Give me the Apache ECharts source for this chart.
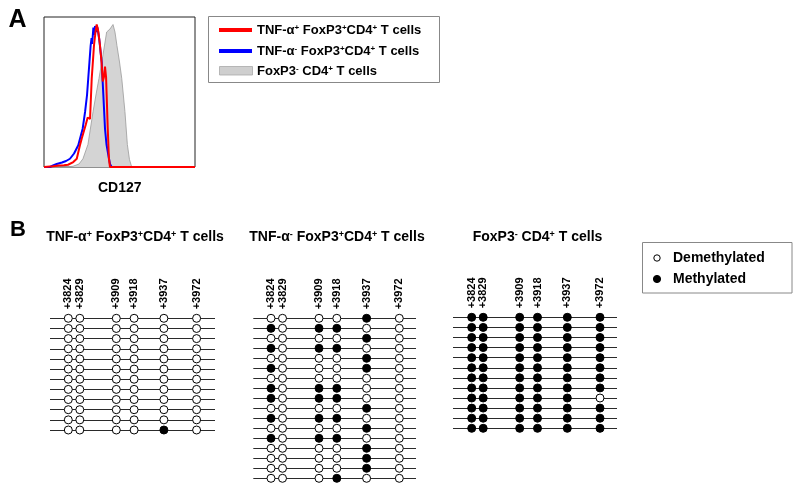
<!DOCTYPE html>
<html><head><meta charset="utf-8">
<script src="https://cdn.jsdelivr.net/npm/echarts@6/dist/echarts.min.js"></script>
<style>html,body{margin:0;padding:0;background:#fff}#c{width:800px;height:491px}</style>
</head><body><div id="c"></div>
<script>
const FONT = '"Liberation Sans", Arial, Helvetica, sans-serif';

// ---- Panel A: CD127 histograms, [channel, % of max] ----
const histFoxp3Neg = [[0,0],[146,0],[192,0.5],[232,2],[258,5.5],[291,15],[325,37],[344,48],[364,59],[391,75],[415,90],[424,90],[437,92],[457,95],[470,90],[483,81],[500,70],[515,59],[536,37],[552,15],[566,5],[581,0],[1000,0]];
const histTnfNeg = [[0,0],[40,0],[60,1],[84,2],[119,3],[146,4],[172,5.5],[199,9],[227,14.5],[256,25.5],[272,36.7],[285,48],[293,59],[301,70],[309,81],[315,86],[319,82],[327,93],[331,88],[338,94],[344,90],[354,93],[366,85],[382,70],[393,48],[404,25.5],[414,15],[426,8],[437,2],[448,0],[1000,0]];
const histTnfPos = [[0,0],[60,0.5],[99,1],[132,1.2],[159,1.5],[194,3.3],[217,5.5],[238,14.5],[250,19],[258,20],[276,28],[289,33],[298,32],[305,32],[316,59],[325,72],[331,81],[341,90],[349,95],[354,93],[360,90],[371,81],[381,70],[389,57],[397,60],[404,67],[411,60],[415,48],[422,26],[430,5.5],[437,0],[1000,0]];
const histNames = ['TNF-α{sup|+} FoxP3{sup|+}CD4{sup|+} T cells', 'TNF-α{sup|-} FoxP3{sup|+}CD4{sup|+} T cells', 'FoxP3{sup|-} CD4{sup|+} T cells'];
const histAxisName = 'CD127';

// ---- Panel B: methylation of CpG sites (1 = methylated, 0 = demethylated) ----
const siteLabels = ['+3824', '+3829', '+3909', '+3918', '+3937', '+3972'];
const methTnfPos = ['000000','000000','000000','000000','000000','000000','000000','000000','000000','000000','000000','000010'];
const methTnfNeg = ['000010','101100','000010','101100','000010','100010','000000','101100','101100','000010','101100','000010','101100','000010','000010','000010','000100'];
const methFoxp3Neg = ['111111','111111','111111','111111','111111','111111','111111','111111','111110','111111','111111','111111'];
const panelTitles = ['TNF-α{sup|+} FoxP3{sup|+}CD4{sup|+} T cells', 'TNF-α{sup|-} FoxP3{sup|+}CD4{sup|+} T cells', 'FoxP3{sup|-} CD4{sup|+} T cells'];
const methLegend = ['Demethylated', 'Methylated'];

// ---- layout (pixels) ----
const siteX = [0, 11.5, 48, 65.8, 95.6, 128.3];
const panelLayout = [
  {left: 50,    width: 165,   x0: 68.3,  top: 318.3, height: 111.7, tx: 135},
  {left: 253.3, width: 162.7, x0: 271,   top: 318.3, height: 160,   tx: 337},
  {left: 453,   width: 164,   x0: 471.7, top: 317.3, height: 111,   tx: 537.5}
];
const panelRows = [methTnfPos, methTnfNeg, methFoxp3Neg];

const supStyle = (fs) => ({fontSize: fs, fontWeight: 'bold', fontFamily: FONT, fill: '#000', verticalAlign: 'top', lineHeight: fs});
function richText(x, y, text, fs, align, supFs) {
  return {type: 'text', x: x, y: y, z: 100, style: {
    text: text, fontSize: fs, fontWeight: 'bold', fontFamily: FONT, fill: '#000',
    align: align || 'center', verticalAlign: 'middle',
    rich: {sup: supStyle(supFs || Math.round(fs * 0.65))}
  }};
}

const grids = [{left: 44, top: 17, width: 151, height: 150, show: true, borderColor: '#222', borderWidth: 1, backgroundColor: '#fff'}];
const xAxes = [{gridIndex: 0, type: 'value', min: 0, max: 1000, show: false}];
const yAxes = [{gridIndex: 0, type: 'value', min: 0, max: 100, show: false}];
const series = [
  {name: 'foxp3neg', type: 'line', xAxisIndex: 0, yAxisIndex: 0, data: histFoxp3Neg, symbol: 'none', clip: false,
   lineStyle: {color: '#9a9a9a', width: 0.8}, areaStyle: {color: '#d4d4d4', opacity: 1}, z: 2},
  {name: 'tnfneg', type: 'line', xAxisIndex: 0, yAxisIndex: 0, data: histTnfNeg, symbol: 'none', clip: false,
   lineStyle: {color: '#0000ff', width: 2}, z: 3},
  {name: 'tnfpos', type: 'line', xAxisIndex: 0, yAxisIndex: 0, data: histTnfPos, symbol: 'none', clip: false,
   lineStyle: {color: '#ff0000', width: 2}, z: 4}
];

panelLayout.forEach((p, i) => {
  const gi = i + 1;
  const rows = panelRows[i];
  const xmin = p.left - p.x0;
  grids.push({left: p.left, top: p.top, width: p.width, height: p.height});
  xAxes.push({gridIndex: gi, type: 'value', position: 'top', min: xmin, max: xmin + p.width,
    axisLine: {show: false}, axisTick: {show: false}, splitLine: {show: false},
    axisLabel: {customValues: siteX, rotate: 90, margin: 9, fontSize: 11, fontWeight: 'bold', fontFamily: FONT, color: '#000',
      formatter: v => { const k = siteX.findIndex(s => Math.abs(s - v) < 0.01); return k >= 0 ? siteLabels[k] : ''; }}});
  yAxes.push({gridIndex: gi, type: 'value', inverse: true, min: 0, max: rows.length - 1, interval: 1,
    axisLine: {show: false}, axisTick: {show: false}, axisLabel: {show: false},
    splitLine: {show: true, showMinLine: true, showMaxLine: true, lineStyle: {color: '#2a2a2a', width: 1}}});
  const meth = [], demeth = [];
  rows.forEach((r, ri) => { r.split('').forEach((c, si) => { (c === '1' ? meth : demeth).push([siteX[si], ri]); }); });
  series.push({type: 'scatter', xAxisIndex: gi, yAxisIndex: gi, data: demeth, symbol: 'circle', symbolSize: 8, clip: false,
    itemStyle: {color: '#fff', borderColor: '#000', borderWidth: 1, opacity: 1}, silent: true, z: 5});
  series.push({type: 'scatter', xAxisIndex: gi, yAxisIndex: gi, data: meth, symbol: 'circle', symbolSize: 8, clip: false,
    itemStyle: {color: '#000', borderColor: '#000', borderWidth: 1, opacity: 1}, silent: true, z: 5});
});

const graphics = [
  richText(17.5, 20, 'A', 25, 'center'),
  richText(18, 230, 'B', 22, 'center'),
  richText(119.7, 188, histAxisName, 14, 'center'),
  // legend A
  {type: 'rect', shape: {x: 208.5, y: 16.5, width: 231, height: 66}, style: {fill: '#fff', stroke: '#888', lineWidth: 1}, z: 90},
  {type: 'rect', shape: {x: 219, y: 28, width: 33, height: 4}, style: {fill: '#ff0000'}, z: 91},
  {type: 'rect', shape: {x: 219, y: 49, width: 33, height: 4}, style: {fill: '#0000ff'}, z: 91},
  {type: 'rect', shape: {x: 219.5, y: 66.5, width: 33, height: 8.5}, style: {fill: '#cfcfcf', stroke: '#aaa', lineWidth: 0.8}, z: 91},
  richText(257, 30.5, histNames[0], 13, 'left', 8),
  richText(257, 51, histNames[1], 13, 'left', 8),
  richText(257, 71, histNames[2], 13, 'left', 8),
  // legend B
  {type: 'rect', shape: {x: 642.5, y: 242.5, width: 149.5, height: 50.5}, style: {fill: '#fff', stroke: '#888', lineWidth: 1}, z: 90},
  {type: 'circle', shape: {cx: 657, cy: 258, r: 3.2}, style: {fill: '#fff', stroke: '#000', lineWidth: 1}, z: 91},
  {type: 'circle', shape: {cx: 657, cy: 279, r: 3.6}, style: {fill: '#000', stroke: '#000', lineWidth: 1}, z: 91},
  richText(673, 258, methLegend[0], 14, 'left'),
  richText(673, 279, methLegend[1], 14, 'left')
];
panelLayout.forEach((p, i) => graphics.push(richText(p.tx, 237, panelTitles[i], 14, 'center', 9)));

const chart = echarts.init(document.getElementById('c'), null, {renderer: 'canvas'});
chart.setOption({
  animation: false,
  backgroundColor: '#fff',
  grid: grids, xAxis: xAxes, yAxis: yAxes, series: series,
  graphic: {elements: graphics}
});
</script></body></html>
